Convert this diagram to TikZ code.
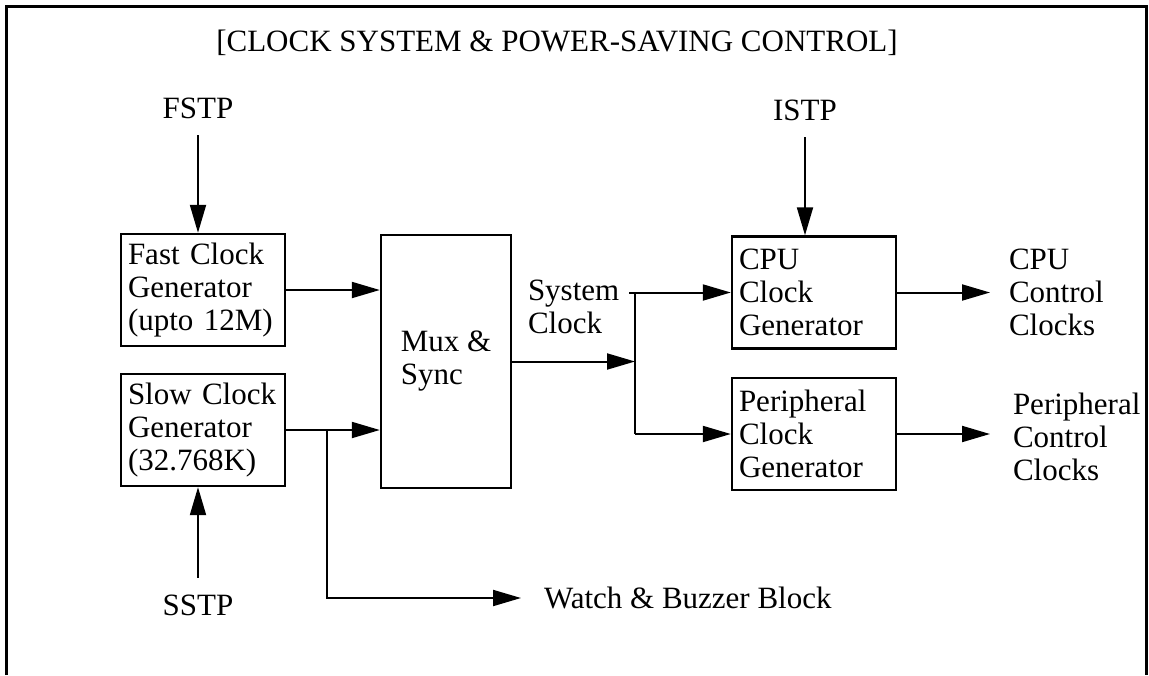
\documentclass[tikz,border=0pt]{standalone}
\usepackage{fontspec}
\setmainfont{Liberation Serif}
\usetikzlibrary{arrows.meta}

\tikzset{every picture/.style={line width=2pt}}
\tikzset{
  box/.style={draw,line width=2.4pt,rectangle,align=left,inner sep=0pt,font=\fontsize{31}{33}\selectfont},
  gen/.style={box,text width=150pt,inner xsep=7pt,minimum height=112pt},
  lbl/.style={inner sep=0pt,align=left,font=\fontsize{31}{33}\selectfont},
  sig/.style={lbl,inner ysep=16pt},
  arr/.style={-{Triangle[length=28pt,width=16pt]}},
  frame/.style={line width=3pt}
}

\begin{document}
\begin{tikzpicture}[x=1pt,y=1pt,yscale=-1,xscale=1]
        \useasboundingbox (0,0) rectangle (1149,675);
        \draw[frame]  (6,675) -- (6,6) -- (1146.5,6) -- (1146.5,675);

        \node[lbl] (title) at (557,43) {[CLOCK SYSTEM \& POWER-SAVING CONTROL]};

        \node[sig] (fstp) at (198,108) {FSTP};
        \node[sig] (istp) at (805,110) {ISTP};
        \node[sig] (sstp) at (198,605) {SSTP};

        \node[gen] (fast) at (203,290) {Fast Clock\\Generator\\(upto 12M)};
        \node[gen] (slow) at (203,430) {Slow Clock\\Generator\\(32.768K)};
        \node[box,minimum width=130pt,minimum height=253pt] (mux) at (446,361.5) {Mux \&\\Sync};
        \node[gen] (cpu) at (814,292.5) {CPU\\Clock\\Generator};
        \node[gen] (per) at (814,434) {Peripheral\\Clock\\Generator};

        \node[lbl,anchor=west] (sysclk) at (527,307) {System\\Clock};
        \node[lbl,anchor=west,inner xsep=18pt] (cpuout) at (990,292) {CPU\\Control\\Clocks};
        \node[lbl,anchor=west,inner xsep=22pt] (perout) at (990,437) {Peripheral\\Control\\Clocks};
        \node[lbl,anchor=west,inner xsep=22pt] (watch) at (521,598) {Watch \& Buzzer Block};

        \coordinate (jn) at (635,361.5);
        \coordinate (sbr) at (327,430);

        \draw[arr] (fstp.south) -- (fstp.south |- fast.north);
        \draw[arr] (sstp.north) -- (sstp.north |- slow.south);
        \draw[arr] (istp.south) -- (istp.south |- cpu.north);

        \draw[arr] (fast.east) -- (fast.east -| mux.west);
        \draw[arr] (slow.east) -- (slow.east -| mux.west);
        \draw[arr] (sbr) |- (watch.west);

        \draw[arr] (mux.east) -- (jn);
        \draw[arr] ([xshift=-6pt]jn |- cpu.west) -- (cpu.west);
        \draw      (jn |- cpu.west) -- (jn |- per.west);
        \draw[arr] (jn |- per.west) -- (per.west);

        \draw[arr] (cpu.east) -- (cpu.east -| cpuout.west);
        \draw[arr] (per.east) -- (per.east -| perout.west);
\end{tikzpicture}
\end{document}
